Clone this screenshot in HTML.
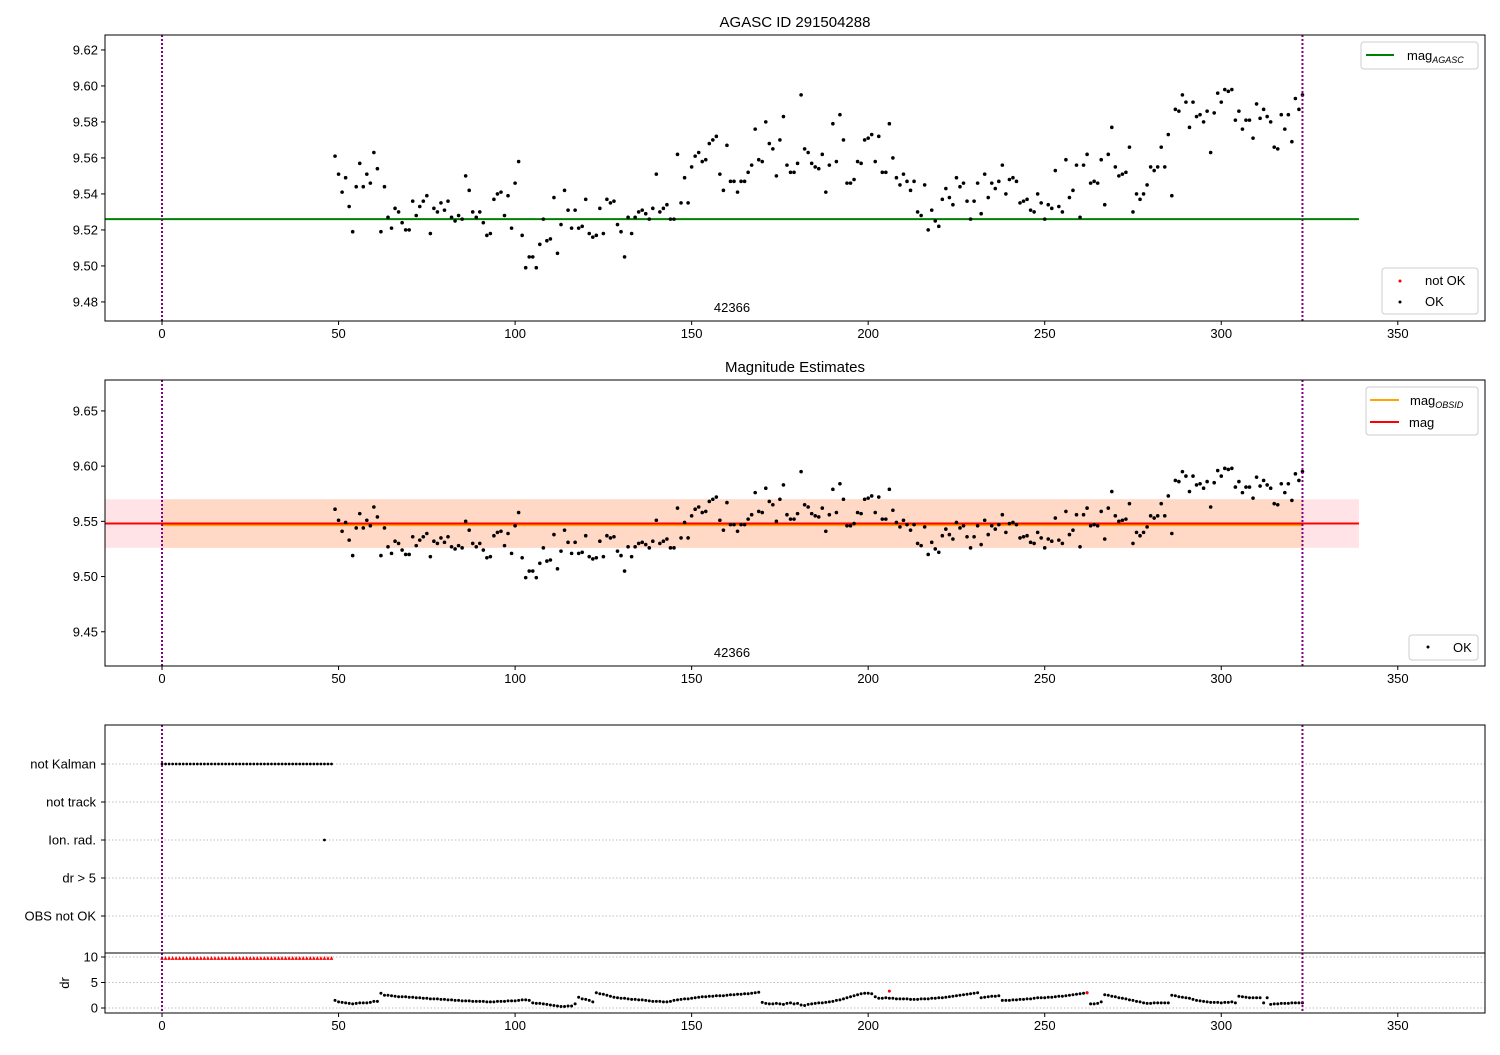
<!DOCTYPE html>
<html><head><meta charset="utf-8"><style>
body{margin:0;background:#fff;}
svg text{font-family:"Liberation Sans","DejaVu Sans",sans-serif;fill:#000;}
</style></head><body>
<svg id="c" width="1500" height="1050" viewBox="0 0 1500 1050" xmlns="http://www.w3.org/2000/svg"></svg>
<script>
const times=[49,50,51,52,53,54,55,56,57,58,59,60,61,62,63,64,65,66,67,68,69,70,71,72,73,74,75,76,77,78,79,80,81,82,83,84,85,86,87,88,89,90,91,92,93,94,95,96,97,98,99,100,101,102,103,104,105,106,107,108,109,110,111,112,113,114,115,116,117,118,119,120,121,122,123,124,125,126,127,128,129,130,131,132,133,134,135,136,137,138,139,140,141,142,143,144,145,146,147,148,149,150,151,152,153,154,155,156,157,158,159,160,161,162,163,164,165,166,167,168,169,170,171,172,173,174,175,176,177,178,179,180,181,182,183,184,185,186,187,188,189,190,191,192,193,194,195,196,197,198,199,200,201,202,203,204,205,206,207,208,209,210,211,212,213,214,215,216,217,218,219,220,221,222,223,224,225,226,227,228,229,230,231,232,233,234,235,236,237,238,239,240,241,242,243,244,245,246,247,248,249,250,251,252,253,254,255,256,257,258,259,260,261,262,263,264,265,266,267,268,269,270,271,272,273,274,275,276,277,278,279,280,281,282,283,284,285,286,287,288,289,290,291,292,293,294,295,296,297,298,299,300,301,302,303,304,305,306,307,308,309,310,311,312,313,314,315,316,317,318,319,320,321,322,323];
const mags=[9.561,9.551,9.541,9.549,9.533,9.519,9.544,9.557,9.544,9.551,9.546,9.563,9.554,9.519,9.544,9.527,9.521,9.532,9.530,9.524,9.520,9.520,9.536,9.528,9.533,9.536,9.539,9.518,9.532,9.530,9.535,9.531,9.536,9.527,9.525,9.528,9.526,9.550,9.542,9.530,9.527,9.530,9.524,9.517,9.518,9.537,9.540,9.541,9.528,9.539,9.521,9.546,9.558,9.517,9.499,9.505,9.505,9.499,9.512,9.526,9.514,9.515,9.538,9.507,9.523,9.542,9.531,9.521,9.531,9.521,9.522,9.537,9.518,9.516,9.517,9.532,9.518,9.537,9.535,9.536,9.523,9.519,9.505,9.527,9.518,9.527,9.530,9.531,9.529,9.526,9.532,9.551,9.530,9.532,9.534,9.526,9.526,9.562,9.535,9.549,9.535,9.555,9.561,9.563,9.558,9.559,9.568,9.570,9.572,9.551,9.542,9.567,9.547,9.547,9.541,9.547,9.547,9.552,9.556,9.576,9.559,9.558,9.580,9.568,9.565,9.550,9.570,9.583,9.556,9.552,9.552,9.557,9.595,9.565,9.563,9.557,9.555,9.554,9.562,9.541,9.556,9.579,9.558,9.584,9.570,9.546,9.546,9.548,9.558,9.557,9.570,9.571,9.573,9.558,9.572,9.552,9.552,9.579,9.560,9.549,9.545,9.551,9.547,9.542,9.547,9.530,9.528,9.545,9.520,9.531,9.525,9.522,9.537,9.543,9.538,9.534,9.549,9.544,9.546,9.536,9.526,9.536,9.546,9.529,9.551,9.538,9.546,9.543,9.547,9.556,9.540,9.548,9.549,9.547,9.535,9.536,9.537,9.531,9.530,9.540,9.535,9.526,9.534,9.532,9.553,9.533,9.530,9.559,9.538,9.542,9.556,9.527,9.556,9.562,9.546,9.547,9.546,9.559,9.534,9.562,9.577,9.555,9.550,9.551,9.552,9.566,9.530,9.540,9.537,9.540,9.545,9.555,9.553,9.555,9.566,9.555,9.573,9.539,9.587,9.586,9.595,9.591,9.577,9.591,9.583,9.584,9.580,9.586,9.563,9.585,9.596,9.591,9.598,9.597,9.598,9.581,9.586,9.576,9.581,9.581,9.571,9.590,9.582,9.587,9.583,9.580,9.566,9.565,9.584,9.576,9.584,9.569,9.593,9.587,9.595];
const drVals=[1.5,1.2,1.1,1.0,0.9,0.8,0.9,1.0,1.0,1.0,1.1,1.3,1.3,2.9,2.5,2.5,2.4,2.3,2.2,2.2,2.2,2.1,2.1,2.0,2.0,1.9,1.9,1.8,1.8,1.8,1.7,1.7,1.6,1.6,1.5,1.5,1.4,1.4,1.4,1.3,1.3,1.3,1.3,1.2,1.2,1.2,1.3,1.3,1.3,1.4,1.4,1.4,1.5,1.6,1.6,1.5,1.0,0.9,0.9,0.8,0.7,0.6,0.5,0.4,0.3,0.3,0.4,0.4,0.8,2.1,1.8,1.7,1.5,1.2,3.0,2.8,2.7,2.5,2.3,2.1,2.0,1.9,1.9,1.8,1.7,1.7,1.6,1.6,1.5,1.4,1.3,1.3,1.3,1.2,1.2,1.3,1.5,1.6,1.7,1.8,1.8,1.9,2.0,2.1,2.2,2.2,2.3,2.3,2.4,2.4,2.4,2.5,2.6,2.6,2.7,2.7,2.8,2.8,2.9,3.0,3.1,1.1,0.9,0.8,0.8,0.9,0.8,0.7,0.9,1.0,0.8,0.9,0.6,0.5,0.7,0.8,0.9,1.0,1.0,1.1,1.2,1.3,1.5,1.6,1.8,2.0,2.2,2.4,2.6,2.8,2.9,2.9,2.8,2.2,1.9,1.9,2.0,1.9,1.9,1.8,1.8,1.8,1.8,1.7,1.7,1.7,1.8,1.8,1.8,1.9,1.9,2.0,2.0,2.1,2.2,2.3,2.4,2.5,2.6,2.7,2.8,2.9,3.0,2.0,2.1,2.2,2.3,2.3,2.4,1.5,1.5,1.5,1.6,1.6,1.7,1.7,1.8,1.8,1.9,2.0,2.0,2.0,2.1,2.1,2.2,2.3,2.3,2.4,2.5,2.6,2.7,2.8,2.9,3.0,0.8,0.8,0.9,1.2,2.6,2.5,2.3,2.2,2.0,1.9,1.8,1.6,1.5,1.3,1.2,1.0,0.9,0.9,1.0,1.0,1.0,1.0,1.0,2.5,2.4,2.2,2.1,2.0,1.9,1.7,1.5,1.4,1.3,1.2,1.1,1.1,1.1,1.0,1.1,1.1,1.2,1.0,2.3,2.2,2.1,2.0,2.0,2.0,2.0,1.0,2.0,0.7,0.8,0.8,0.9,0.9,0.9,1.0,1.0,1.0,1.0];
const drBadTimes=[206,262];
const drBadVals=[3.3,3.0];
const flagTimes=[0,1,2,3,4,5,6,7,8,9,10,11,12,13,14,15,16,17,18,19,20,21,22,23,24,25,26,27,28,29,30,31,32,33,34,35,36,37,38,39,40,41,42,43,44,45,46,47,48];
const ionTimes=[46];
const categories=["OBS not OK","dr > 5","Ion. rad.","not track","not Kalman"];
const xTicks=[0,50,100,150,200,250,300,350];
const y1Ticks=[9.48,9.50,9.52,9.54,9.56,9.58,9.60,9.62];
const y2Ticks=[9.45,9.50,9.55,9.60,9.65];
const drTicks=[0,5,10];
const magAgasc=9.526, magObs=9.5475, magMean=9.548, magLo=9.526, magHi=9.570;
const tStart=0, tStop=323;

const svg=document.getElementById('c');
const NS='http://www.w3.org/2000/svg';
function mk(tag,attrs,parent){const e=document.createElementNS(NS,tag);for(const k in attrs)e.setAttribute(k,attrs[k]);(parent||svg).appendChild(e);return e;}
const X0=105,X1=1485,TMIN=-16.15,TMAX=374.7;
function sx(t){return X0+(t-TMIN)/(TMAX-TMIN)*(X1-X0);}
function lin(d0,d1,r0,r1){return v=>r0+(v-d0)/(d1-d0)*(r1-r0);}
const sy1=lin(9.4694,9.6283,321,35);
const sy2=lin(9.419,9.678,666,380);
const syc=i=>916-38*i;
const sdr=lin(0,10,1008,957);

function frame(top,bot,name){
  const r=mk('rect',{x:X0,y:top,width:X1-X0,height:bot-top,fill:'none',stroke:'#000','stroke-width':1});
  
  
}
function xAxis(bot,name){
  const g=mk('g',{});
  
  
  xTicks.forEach(t=>{mk('line',{x1:sx(t),x2:sx(t),y1:bot,y2:bot+4,stroke:'#000'},g);const tx=mk('text',{x:sx(t),y:bot+17,'font-size':13,'text-anchor':'middle'},g);tx.textContent=t;});
}
function yAxis(ticks,sy,fmt,name){
  const g=mk('g',{});
  
  
  ticks.forEach(v=>{const y=sy(v);mk('line',{x1:X0-4,x2:X0,y1:y,y2:y,stroke:'#000'},g);const tx=mk('text',{x:X0-7,y:y+4.5,'font-size':13,'text-anchor':'end'},g);tx.textContent=fmt(v);});
}
function vlines(top,bot){
  [tStart,tStop].forEach(t=>{const l=mk('line',{x1:sx(t),x2:sx(t),y1:top,y2:bot,stroke:'#800080','stroke-width':2,'stroke-dasharray':'2,2'});
  
  });
}
function dots(ts,vs,sy,color,name,r){
  const g=mk('g',{fill:color});
  
  
  ts.forEach((t,i)=>mk('circle',{cx:sx(t),cy:sy(vs[i]),r:r||1.8},g));
}

// Panel 1
const t1=mk('text',{x:795,y:27,'font-size':15,'text-anchor':'middle'});t1.textContent='AGASC ID 291504288';

const ga=mk('line',{x1:sx(TMIN),x2:sx(339),y1:sy1(magAgasc),y2:sy1(magAgasc),stroke:'#008000','stroke-width':2});

dots(times,mags,sy1,'#000','ok-points-top');
vlines(35,321);
frame(35,321,'top-axes');
xAxis(321,'top-x-axis');
yAxis(y1Ticks,sy1,v=>v.toFixed(2),'top-y-axis');
const o1=mk('text',{x:732,y:312,'font-size':13,'text-anchor':'middle'});o1.textContent='42366';


// Panel 2
const t2=mk('text',{x:795,y:372,'font-size':15,'text-anchor':'middle'});t2.textContent='Magnitude Estimates';

const pb=mk('rect',{x:sx(TMIN),y:sy2(magHi),width:sx(339)-sx(TMIN),height:sy2(magLo)-sy2(magHi),fill:'#ffc0c8',opacity:0.45});

const ob=mk('rect',{x:sx(tStart),y:sy2(magHi),width:sx(tStop)-sx(tStart),height:sy2(magLo)-sy2(magHi),fill:'#ffd0b0',opacity:0.6});

const ol=mk('line',{x1:sx(tStart),x2:sx(tStop),y1:sy2(magObs)+1,y2:sy2(magObs)+1,stroke:'#ffa500','stroke-width':2});

const ml=mk('line',{x1:sx(TMIN),x2:sx(339),y1:sy2(magMean),y2:sy2(magMean),stroke:'#ff0000','stroke-width':2});

dots(times,mags,sy2,'#000','ok-points-middle');
vlines(380,666);
frame(380,666,'middle-axes');
xAxis(666,'middle-x-axis');
yAxis(y2Ticks,sy2,v=>v.toFixed(2),'middle-y-axis');
const o2=mk('text',{x:732,y:657,'font-size':13,'text-anchor':'middle'});o2.textContent='42366';


// Panel 3 flags
const gg=mk('g',{stroke:'#aaa','stroke-dasharray':'1.5,2','stroke-width':0.8});

categories.forEach((c,i)=>mk('line',{x1:X0,x2:X1,y1:syc(i),y2:syc(i)},gg));
drTicks.forEach(v=>mk('line',{x1:X0,x2:X1,y1:sdr(v),y2:sdr(v)},gg));
dots(flagTimes,flagTimes.map(()=>4),(v)=>syc(v),'#000','not-kalman-points',1.4);
dots(ionTimes,ionTimes.map(()=>2),(v)=>syc(v),'#000','ion-rad-points',1.4);
const gt=mk('g',{fill:'#ff0000'});

flagTimes.forEach(t=>{const x=sx(t),y=sdr(9.8);mk('path',{d:`M${x-1.8},${y+1.8}L${x+1.8},${y+1.8}L${x},${y-2}Z`},gt);});
dots(times,drVals,sdr,'#000','dr-points',1.5);
dots(drBadTimes,drBadVals,sdr,'#ff0000','dr-bad-points',1.5);
vlines(725,1013);
frame(725,953,'flags-axes');
frame(953,1013,'dr-axes');
xAxis(1013,'bottom-x-axis');
const gc=mk('g',{});
categories.forEach((c,i)=>{const y=syc(i);mk('line',{x1:X0-4,x2:X0,y1:y,y2:y,stroke:'#000'},gc);const tx=mk('text',{x:X0-9,y:y+4.5,'font-size':13,'text-anchor':'end'},gc);tx.textContent=c;});
yAxis(drTicks,sdr,v=>String(v),'dr-y-axis');
const dl=mk('text',{x:0,y:0,'font-size':13,'text-anchor':'middle',transform:'translate(69,983) rotate(-90)'});dl.textContent='dr';


// Legends
function legendBox(x,y,w,h,name){const g=mk('g',{});
mk('rect',{x:x,y:y,width:w,height:h,rx:3,fill:'#fff',stroke:'#ccc'},g);return g;}
let L=legendBox(1361,42,117,27,'legend-agasc');
mk('line',{x1:1366,x2:1394,y1:55,y2:55,stroke:'#008000','stroke-width':2},L);
let tx=mk('text',{x:1407,y:60,'font-size':13},L);tx.innerHTML='mag<tspan font-size="9" font-style="italic" dy="3">AGASC</tspan>';
L=legendBox(1382,268,96,46,'legend-ok-top');
mk('circle',{cx:1400,cy:281,r:1.5,fill:'#ff0000'},L);
tx=mk('text',{x:1425,y:285,'font-size':13},L);tx.textContent='not OK';
mk('circle',{cx:1400,cy:302,r:1.5,fill:'#000'},L);
tx=mk('text',{x:1425,y:306,'font-size':13},L);tx.textContent='OK';
L=legendBox(1366,387,112,48,'legend-mag');
mk('line',{x1:1370,x2:1399,y1:400,y2:400,stroke:'#ffa500','stroke-width':2},L);
tx=mk('text',{x:1410,y:405,'font-size':13},L);tx.innerHTML='mag<tspan font-size="9" font-style="italic" dy="3">OBSID</tspan>';
mk('line',{x1:1370,x2:1399,y1:422,y2:422,stroke:'#ff0000','stroke-width':2},L);
tx=mk('text',{x:1409,y:427,'font-size':13},L);tx.textContent='mag';
L=legendBox(1409,635,69,25,'legend-ok-middle');
mk('circle',{cx:1428,cy:647,r:1.5,fill:'#000'},L);
tx=mk('text',{x:1453,y:652,'font-size':13},L);tx.textContent='OK';
</script>
</body></html>
